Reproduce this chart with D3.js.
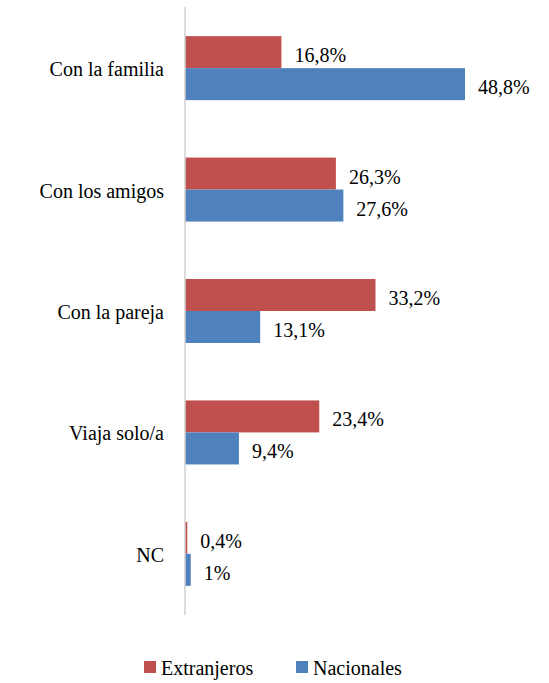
<!DOCTYPE html>
<html>
<head>
<meta charset="utf-8">
<script src="https://cdn.jsdelivr.net/npm/d3@7"></script>
<style>
  body { margin: 0; background: #fff; font-family: "Times New Roman"; }
  svg text { font-family: "Times New Roman" !important; }
</style>
</head>
<body>
<svg width="549" height="683" font-family="Times New Roman"></svg>
<script>
const categories = ['Con la familia', 'Con los amigos', 'Con la pareja', 'Viaja solo/a', 'NC'];
const seriesNames = ['Extranjeros', 'Nacionales'];
const extranjeros = [16.8, 26.3, 33.2, 23.4, 0.4];
const nacionales = [48.8, 27.6, 13.1, 9.4, 1];
const valueLabels = [
  ['16,8%', '26,3%', '33,2%', '23,4%', '0,4%'],
  ['48,8%', '27,6%', '13,1%', '9,4%', '1%']
];
const colors = ['#C0504D', '#4F81BD'];

const svg = d3.select('svg');
const x0 = 185;

const x = d3.scaleLinear().domain([0, 48.8]).range([x0, 465]);
const y = d3.scaleBand().domain(categories).range([7, 615])
  .paddingInner(0.473).paddingOuter(0.24);
const ySub = d3.scaleBand().domain(seriesNames).range([0, y.bandwidth()]);

const rows = categories.map((c, i) => ({
  cat: c,
  vals: [extranjeros[i], nacionales[i]].map((v, s) => ({ s, v, label: valueLabels[s][i] }))
}));

const groups = svg.append('g')
  .selectAll('g')
  .data(rows)
  .enter()
  .append('g')
  .attr('transform', d => `translate(0,${y(d.cat)})`);

groups.selectAll('rect')
  .data(d => d.vals)
  .enter()
  .append('rect')
  .attr('x', x0)
  .attr('y', d => ySub(seriesNames[d.s]))
  .attr('width', d => x(d.v) - x0)
  .attr('height', ySub.bandwidth())
  .attr('fill', d => colors[d.s]);

groups.selectAll('text.val')
  .data(d => d.vals)
  .enter()
  .append('text')
  .attr('class', 'val')
  .attr('x', d => x(d.v) + 13)
  .attr('y', d => ySub(seriesNames[d.s]) + ySub.bandwidth() / 2 + 10)
  .attr('font-family', 'Times New Roman')
  .attr('font-size', 20)
  .text(d => d.label);

// axis line
svg.append('line')
  .attr('x1', x0).attr('x2', x0)
  .attr('y1', 7).attr('y2', 615)
  .attr('stroke', '#d0d0d0')
  .attr('stroke-width', 1.5);

// category labels
svg.append('g')
  .selectAll('text')
  .data(categories)
  .enter()
  .append('text')
  .attr('x', 164)
  .attr('y', d => y(d) + y.bandwidth() / 2 + 8)
  .attr('text-anchor', 'end')
  .attr('font-family', 'Times New Roman')
  .attr('font-size', 20)
  .text(d => d);

// legend
const legendX = [144, 296];
const legend = svg.append('g')
  .selectAll('g')
  .data(seriesNames)
  .enter()
  .append('g')
  .attr('transform', (d, i) => `translate(${legendX[i]},661)`);

legend.append('rect')
  .attr('width', 12).attr('height', 12)
  .attr('fill', (d, i) => colors[i]);

legend.append('text')
  .attr('x', 17).attr('y', 14)
  .attr('font-family', 'Times New Roman')
  .attr('font-size', 20)
  .text(d => d);
</script>
</body>
</html>
